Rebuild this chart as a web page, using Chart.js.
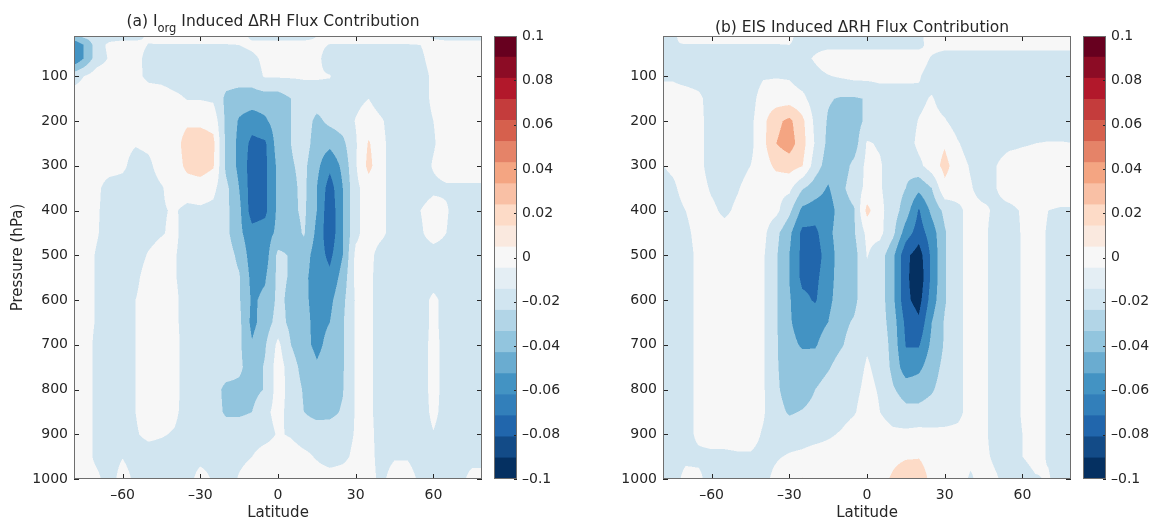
<!DOCTYPE html>
<html>
<head>
<meta charset="utf-8">
<script src="https://cdn.jsdelivr.net/npm/chart.js@4.4.1/dist/chart.umd.min.js"></script>
<style>
  body { margin: 0; background: #ffffff; }
  #wrap { position: relative; width: 1151px; height: 522px; overflow: hidden; }
  canvas { position: absolute; top: 0; }
</style>
</head>
<body>
<div id="wrap">
  <canvas id="panelA" width="490" height="522" style="left:0px"></canvas>
  <canvas id="barA" width="82" height="522" style="left:480px"></canvas>
  <canvas id="panelB" width="490" height="522" style="left:589px"></canvas>
  <canvas id="barB" width="82" height="522" style="left:1069px"></canvas>
</div>
<script>
const latitudes = [-80, -75, -70, -65, -60, -55, -50, -45, -40, -35, -30, -25, -20, -15, -10, -5, 0, 5, 10, 15, 20, 25, 30, 35, 40, 45, 50, 55, 60, 65, 70, 75, 80];
const pressureLevels = [10, 30, 60, 100, 150, 200, 250, 300, 350, 400, 450, 500, 550, 600, 650, 700, 750, 800, 850, 900, 950, 1000];
const latTicks = [-60, -30, 0, 30, 60];
const pressureTicks = [100, 200, 300, 400, 500, 600, 700, 800, 900, 1000];
const colorbarTicks = [-0.1, -0.08, -0.06, -0.04, -0.02, 0, 0.02, 0.04, 0.06, 0.08, 0.1];

// filled contour bands of the panels
const contourLevels = [-0.09, -0.07, -0.05, -0.03, -0.01, 0.01, 0.03, 0.05, 0.07, 0.09];
const contourColors = ['#053061', '#2166ac', '#4393c3', '#92c5de', '#d1e5f0', '#f7f7f7', '#fddbc7', '#f4a582', '#d6604d', '#b2182b', '#67001f'];
// colorbar, bottom (-0.1) to top (0.1)
const colorbarColors = ['#053061', '#134b87', '#2166ac', '#327fba', '#4393c3', '#6aacd0', '#92c5de', '#b2d5e7', '#d1e5f0', '#e4eef4', '#f7f7f7',
  '#fae9df', '#fddbc7', '#f9c0a5', '#f4a582', '#e58368', '#d6604d', '#c43c3c', '#b2182b', '#8c0c25', '#67001f'];

// delta RH flux contribution, in units of 0.01. one row per pressure level, one column per latitude
const iorgFlux = [
  [-4, -2.5, -2, -2, -2, -2, -0.5, 0, 0, 0, 0, 0, 0, 0, -1.5, -2, -2, -2, -2, -1, 0, 0, 0, 0, 0, 0, 0, 0, -1.5, -2, -2, -2, -2],
  [-7, -5, -2, -0.5, 0, 0, -1.1, -1.1, -1.1, -1.1, -1.1, -1.1, -1.1, -1, -0.5, 0, 0, 0, 0, -0.5, -1.1, -1.1, -1.1, -1.1, -1.1, -1.1, -1.1, -1, 0, 0, 0, 0, 0],
  [-7.5, -5, -2, -0.8, 0, 0, -2, -2, -2, -2, -2, -2, -2, -2, -1.5, -0.5, 0, 0, 0, -0.5, -2, -2, -2, -2, -2, -2, -2, -1.5, 0, 0, 0, 0, 0],
  [-2, -1, 0, 0, 0, -0.5, -1.4, -1.6, -2, -2, -2, -2, -2, -2, -2, -0.8, -0.8, -0.8, -0.8, -0.8, -0.9, -2, -2, -2, -2, -2, -2, -2, -0.5, 0, 0, 0, 0],
  [0, 0, 0, 0, 0, 0, 0, 0, -0.5, -1.1, -1.1, -1.3, -3.5, -4, -4, -4, -4, -3, -2, -2, -2, -2, -1.5, -1, -2, -2, -2, -2, -0.5, 0, 0, 0, 0],
  [0, 0, 0, 0, 0, 0, 0, 0, 0, 0.6, 0.6, 0.3, -3.5, -5.2, -6, -5.3, -4, -3, -2, -3.5, -2.5, -2, -0.9, 0, -0.8, -2, -2, -2, -1, 0, 0, 0, 0],
  [0, 0, 0, 0, -0.3, -0.8, -0.5, 0, 0, 2, 2, 1.5, -3.5, -5.5, -7.6, -7.3, -4, -3, -2, -4, -4.5, -3.5, -1.2, 1.2, -0.5, -2, -2, -2, -1.2, 0, 0, 0, 0],
  [0, 0, 0, 0, -0.5, -2, -1.5, 0, 0, 1.5, 2, 1.2, -3.5, -5.5, -8, -7.5, -4.5, -3.2, -2.5, -4.5, -6.5, -4.5, -1.2, 1.6, -0.5, -2, -2, -2, -0.8, 0, 0, 0, 0],
  [0, 0, -0.5, -2, -2, -2, -2, -1.2, 0, 0, 0, -0.5, -2.5, -5, -8, -7.5, -4.5, -3.5, -2.5, -5, -8, -5, -1.5, 0, -0.5, -2, -2, -2, -1.5, -1.3, -1.3, -1.3, -1.3],
  [0, 0, -0.7, -2, -2, -2, -2, -1.2, -0.8, -1.5, -1.3, -1.5, -2.5, -4.5, -8, -7.5, -4.5, -3.5, -2.6, -5, -8.5, -5, -1.5, 0, -0.5, -2, -2, -1, 0, -0.8, -2, -2, -2],
  [0, 0, -0.8, -2, -2, -2, -1.8, -1.2, -0.5, -2, -2, -2, -2.5, -4.5, -6.3, -6, -4.5, -4, -2.8, -5.5, -8.5, -5, -1.5, 0, -0.5, -2, -2, -1.3, 0, -1, -2, -2, -2],
  [0, 0, -1.2, -2, -2, -2, -0.8, 0, -0.8, -2, -2, -2, -2, -3.5, -6, -6, -2.5, -3.2, -4, -6, -7.5, -5, -0.5, -0.3, -2, -2, -2, -2, -2, -2, -2, -2, -2],
  [0, 0, -1.2, -2, -2, -1.5, 0, 0, -0.8, -2, -2, -2, -2, -2.8, -5.6, -5.2, -2.5, -3.2, -4.5, -6, -6.5, -4.2, -0.5, -0.5, -2, -2, -2, -2, -2, -2, -2, -2, -2],
  [0, 0, -1.2, -2, -2, -1, 0, 0, -0.5, -2, -2, -2, -2, -2.8, -5.3, -4.6, -2.5, -3.5, -4.7, -5.5, -5.5, -3.5, -0.8, -0.5, -2, -2, -2, -2, -0.5, -1.8, -2, -2, -2],
  [0, 0, -1.2, -2, -2, -1, 0, 0, -0.5, -2, -2, -2, -2, -2.5, -5.6, -4, -2.2, -3.5, -4.5, -5.5, -5, -3.2, -0.8, -0.5, -2, -2, -2, -2, -0.5, -1.8, -2, -2, -2],
  [0, 0, -1.5, -2, -2, -1, 0, 0, -0.3, -2, -2, -2, -2, -2.6, -4.8, -3.2, -0.5, -3, -4.5, -5.4, -4.5, -3.2, -0.8, -0.5, -2, -2, -2, -2, -0.3, -1.8, -2, -2, -2],
  [0, 0, -1.5, -2, -2, -1, 0, 0, -0.3, -2, -2, -2, -2, -2.6, -4, -2.8, 0, -2, -3.8, -4.8, -4.2, -3.2, -0.8, -0.5, -2, -2, -2, -2, -0.3, -1.8, -2, -2, -2],
  [0, 0, -1.5, -2, -2, -1, 0, 0, -0.3, -2, -2, -2.2, -3.5, -3.5, -3.6, -2.9, 0, -1.8, -3.2, -4.2, -4, -3.1, -0.8, -0.5, -2, -2, -2, -2, -0.3, -1.8, -2, -2, -2],
  [0, 0, -1.5, -2, -2, -1, 0, 0, -0.5, -2, -2, -2.2, -3.3, -3.3, -3, -1.5, -0.3, -1.8, -3, -3.6, -3.5, -2.8, -0.8, -0.5, -2, -2, -2, -2, -0.5, -1.8, -2, -2, -2],
  [0, 0, -1.5, -2, -2, -1.2, -0.5, -0.8, -1.2, -2, -2, -2, -2, -2, -2, -1.8, -0.8, -1.2, -2, -2, -2, -2, -0.8, -0.3, -2, -2, -2, -2, -1.1, -2, -2, -2, -2],
  [0, 0, -1.5, -2, -1.1, -2, -2, -2, -2, -2, -1.8, -1.8, -2, -1.5, -1, 0, 0, 0, -0.5, -1.2, -2, -1.5, -0.5, -0.3, -1.8, -1.2, -1.2, -2, -2, -2, -1.5, -1.5, -1.5],
  [0, 0, -0.5, -2, 0, -1.5, -2, -2, -2, -2, 0, -1.3, -2, -0.8, 0, 0, 0, 0, 0, 0, 0, 0, 0, -0.3, -1.5, 0, 0, -1.5, -2, -2, -1.5, -0.5, -0.5]
];

const eisFlux = [
  [-2, -1.5, 0, 0, 0, 0, 0, 0, 0, 0, -0.5, -2, -2, -2, -2, -2, -2, -2, -2, -2, -1.5, 0, 0, 0, 0, 0, 0, 0, 0, 0, 0, 0, 0],
  [-2.2, -1.1, -1.1, -1.1, -1.1, -1.1, -1.1, -1.1, -1.1, -1.1, -1, -1.5, -1.5, -1.5, -1.5, -1.5, -1.5, -1.5, -1.5, -1.5, -1.5, -0.3, -0.3, -0.3, -0.3, -0.3, -0.3, -0.3, -0.3, -0.3, -0.3, -0.3, -0.3],
  [-3.3, -2, -2, -2, -2, -2, -2, -2, -2, -2, -2, -1.5, -0.8, 0, 0, 0, 0, 0, 0, 0, 0, -1.2, -2, -2, -2, -2, -2, -2, -2, -2, -2, -2, -2],
  [-1.3, -1.3, -1.8, -2, -2, -2, -2, -2, -1.2, -1.1, -1.2, -2, -1.5, -1.1, -0.8, -0.5, -0.5, -0.5, -0.5, -0.5, -0.8, -2, -2, -2, -2, -2, -2, -2, -2, -2, -2, -2, -2],
  [0, 0, 0, -0.5, -2, -2, -2, -1.8, 0, 0, 0, -0.5, -2, -2.8, -3.2, -3.2, -2.9, -2, -2, -2, -1.5, -0.8, -2, -2, -2, -2, -2, -2, -2, -2, -2, -2, -2],
  [0, 0, 0, -0.3, -2, -2, -2, -1.5, 0.5, 2.5, 3.5, 1.5, -1.5, -3.2, -4, -4, -2.5, -2, -2, -2, -0.9, -0.3, -0.8, -2, -2, -2, -2, -2, -2, -2, -2, -2, -2],
  [0, 0, 0, -0.3, -2, -2, -2, -1.5, 0.5, 3, 4, 1.8, -1.2, -3.5, -4, -4, -0.8, -1.2, -2, -2, -0.5, 0, 0.8, -0.8, -2, -2, -1.8, -1.5, -1.2, -1, -0.9, -0.9, -1],
  [-1.2, -0.5, 0, -0.3, -2, -2, -2, -1, 0, 1.5, 1.8, 1.1, -2, -4, -4, -2.5, -0.5, -0.8, -2, -2.5, -1.5, 0, 1.6, 0, -1.2, -2, -1, 0, 0, 0, 0, 0, 0],
  [-2, -1.5, 0, 0, -1.3, -2, -1.2, 0, 0, -0.5, -0.5, -2.8, -4, -5.2, -3.5, -2, -0.5, -0.8, -2, -3, -4.5, -3, 0.5, 0, -0.8, -2, -1, 0, 0, 0, 0, 0, 0],
  [-2, -2, -1, 0, -0.5, -1.5, -0.5, 0, 0, -0.5, -2.5, -5.5, -6, -6, -4, -3.2, 1.6, -0.5, -2, -4, -7.2, -4.5, -2.5, -1.5, -0.3, -0.5, -1.5, -1.5, -0.8, -0.3, -1, -1.2, -1.2],
  [-2, -2, -1.5, -0.3, 0, 0, 0, 0, -0.5, -2.5, -4.5, -7.5, -7.5, -5.5, -4, -3.2, -0.5, -0.5, -2.5, -6, -8, -6, -3.2, -1.5, -0.3, -0.5, -2, -2, -0.8, -0.3, -1.2, -2, -2],
  [-2, -2, -1.8, -0.5, 0, 0, 0, 0, -0.8, -2.8, -5, -7.5, -8, -6, -4, -3.8, -0.9, -2, -4.5, -8.5, -10, -6.5, -3.2, -1.5, -0.3, -0.5, -2, -2, -0.8, -0.3, -1.2, -2, -2],
  [-2, -2, -1.8, -0.5, 0, 0, 0, 0, -0.8, -2.8, -5, -7.5, -7.5, -5.8, -4, -3.5, -1.5, -2, -4.5, -8.5, -10.5, -6.5, -3.2, -1.5, -0.3, -0.5, -2, -2, -0.8, -0.3, -1.2, -2, -2],
  [-2, -2, -1.8, -0.5, 0, 0, 0, 0, -0.8, -2.8, -4.8, -6.5, -7.2, -5.5, -4, -3.5, -1.5, -2, -4.5, -8.5, -9.8, -6, -3.2, -1.5, -0.3, -0.5, -2, -2, -0.8, -0.3, -1.2, -2, -2],
  [-2, -2, -1.8, -0.5, 0, 0, 0, 0, -0.8, -2.8, -4.8, -5.8, -5.8, -5, -3.5, -2.8, -1.5, -2, -4, -7.5, -8.6, -5, -2.8, -1.5, -0.3, -0.5, -2, -2, -0.8, -0.3, -1.2, -2, -2],
  [-2, -2, -1.8, -0.5, 0, 0, 0, 0, -0.8, -2.8, -4.5, -5.2, -5.2, -4, -3.2, -2.2, -1.2, -1.5, -3.8, -7.1, -7.2, -4.5, -2.8, -1.5, -0.3, -0.5, -2, -2, -0.8, -0.3, -1.2, -2, -2],
  [-2, -2, -1.8, -0.5, 0, 0, 0, 0, -0.8, -2.8, -4, -4.2, -4, -3.2, -2.2, -1.8, -0.8, -1.5, -3.5, -6.2, -5.5, -3.8, -2.5, -1.5, -0.3, -0.5, -2, -2, -0.8, -0.3, -1.2, -2, -2],
  [-2, -2, -1.8, -0.5, 0, 0, 0, 0, -0.8, -2.7, -3.8, -3.8, -3, -2.2, -2, -1.5, -0.5, -1.2, -2.8, -3.8, -3.8, -3.2, -2.2, -1.5, -0.3, -0.5, -2, -2, -0.8, -0.3, -1.2, -2, -2],
  [-2, -2, -1.8, -0.5, 0, 0, 0, 0, -0.8, -2.4, -3.2, -2.9, -2.5, -2.2, -1.8, -1.2, 0, -1, -2, -2.5, -2.5, -2.2, -2, -1.5, -0.3, -0.5, -2, -2, -0.8, -0.3, -1.2, -2, -2],
  [-2, -2, -1.8, -0.5, 0, 0, 0, -0.3, -1.2, -2, -2, -2, -1.8, -1.3, -0.8, 0, 0, 0, -0.5, -0.5, -0.3, -0.5, -0.5, -0.5, -0.3, -0.5, -2, -2, -1, -0.3, -1.2, -2, -2],
  [-2, -2, -1.5, -1.5, -1.5, -1.5, -1.3, -1.2, -1.5, -1.2, -0.8, -0.5, 0, 0, 0, 0, 0, 0, 0.5, 0.8, 0.9, 0.3, 0, 0, -0.5, -0.5, -1.5, -2, -1, -0.3, -1.2, -2, -2],
  [-2, -2, -0.3, -0.5, -2, -2, -2, -2, -1.5, -0.5, 0.8, 1.1, 0, 0, 0, 0, 0, 0.3, 1.3, 2.2, 2, 0.5, 0, 0, -1.3, 0, -0.8, -2, -2, -1.2, -0.8, -2, -2]
];

const textColor = '#262626';
Chart.defaults.font.family = '"DejaVu Sans", sans-serif';
Chart.defaults.color = textColor;

function hexToRgb(hex) {
  return [parseInt(hex.slice(1, 3), 16), parseInt(hex.slice(3, 5), 16), parseInt(hex.slice(5, 7), 16)];
}
const bandRgb = contourColors.map(hexToRgb);

function cellIndex(nodes, v) {
  let k = 0;
  while (k < nodes.length - 2 && v > nodes[k + 1]) k++;
  return k;
}

function sampleField(field, lat, p) {
  const i = cellIndex(latitudes, lat);
  const j = cellIndex(pressureLevels, p);
  const tx = (lat - latitudes[i]) / (latitudes[i + 1] - latitudes[i]);
  const ty = (p - pressureLevels[j]) / (pressureLevels[j + 1] - pressureLevels[j]);
  const top = field[j][i] * (1 - tx) + field[j][i + 1] * tx;
  const bottom = field[j + 1][i] * (1 - tx) + field[j + 1][i + 1] * tx;
  return (top * (1 - ty) + bottom * ty) * 0.01;
}

function bandOf(v) {
  let k = 0;
  while (k < contourLevels.length && v > contourLevels[k]) k++;
  return k;
}

function formatTick(v) {
  const r = Math.round(v * 100) / 100;
  return r < 0 ? '\u2013' + Math.abs(r) : String(r);
}

// paints the filled contours into the chart area, going through the chart's own scales
const fieldPlugin = {
  id: 'fieldFill',
  beforeDraw(chart, args, opts) {
    const {ctx, chartArea, scales} = chart;
    const left = Math.round(chartArea.left), top = Math.round(chartArea.top);
    const w = Math.round(chartArea.right) - left, h = Math.round(chartArea.bottom) - top;
    const off = document.createElement('canvas');
    off.width = w;
    off.height = h;
    const octx = off.getContext('2d');
    const img = octx.createImageData(w, h);
    const subs = [0.25, 0.75];
    const lats = [], pres = [];
    for (let i = 0; i < w; i++) subs.forEach(s => lats.push(scales.x.getValueForPixel(left + i + s)));
    for (let j = 0; j < h; j++) subs.forEach(s => pres.push(scales.y.getValueForPixel(top + j + s)));
    for (let j = 0; j < h; j++) {
      for (let i = 0; i < w; i++) {
        let r = 0, g = 0, b = 0;
        for (let sj = 0; sj < 2; sj++) {
          for (let si = 0; si < 2; si++) {
            const c = bandRgb[bandOf(sampleField(opts.field, lats[i * 2 + si], pres[j * 2 + sj]))];
            r += c[0]; g += c[1]; b += c[2];
          }
        }
        const o = (j * w + i) * 4;
        img.data[o] = r / 4;
        img.data[o + 1] = g / 4;
        img.data[o + 2] = b / 4;
        img.data[o + 3] = 255;
      }
    }
    octx.putImageData(img, 0, 0);
    ctx.drawImage(off, left, top);
  }
};

// box, inward ticks on all four sides and the panel title
const framePlugin = {
  id: 'panelFrame',
  afterDraw(chart, args, opts) {
    const {ctx, chartArea: a, scales: {x, y}} = chart;
    ctx.save();
    ctx.strokeStyle = textColor;
    ctx.lineWidth = 1;
    ctx.beginPath();
    latTicks.forEach(v => {
      const px = Math.round(x.getPixelForValue(v)) + 0.5;
      ctx.moveTo(px, a.bottom); ctx.lineTo(px, a.bottom - 5);
      ctx.moveTo(px, a.top); ctx.lineTo(px, a.top + 5);
    });
    pressureTicks.forEach(v => {
      const py = Math.round(y.getPixelForValue(v)) + 0.5;
      ctx.moveTo(a.left, py); ctx.lineTo(a.left + 5, py);
      ctx.moveTo(a.right, py); ctx.lineTo(a.right - 5, py);
    });
    ctx.stroke();
    ctx.strokeStyle = '#6e6e6e';
    ctx.strokeRect(Math.round(a.left) + 0.5, Math.round(a.top) + 0.5, Math.round(a.right - a.left) - 1, Math.round(a.bottom - a.top) - 1);

    // title with an optional subscript part
    const mainFont = '15.5px "DejaVu Sans"', subFont = '11.5px "DejaVu Sans"';
    let total = 0;
    opts.title.forEach(part => {
      ctx.font = part.sub ? subFont : mainFont;
      total += ctx.measureText(part.text).width;
    });
    let tx = (a.left + a.right) / 2 - 5 - total / 2;
    ctx.fillStyle = textColor;
    ctx.textBaseline = 'alphabetic';
    ctx.textAlign = 'left';
    opts.title.forEach(part => {
      ctx.font = part.sub ? subFont : mainFont;
      ctx.fillText(part.text, tx, part.sub ? opts.baseline + 6 : opts.baseline);
      tx += ctx.measureText(part.text).width;
    });
    ctx.restore();
  }
};

function makePanel(id, field, title, baseline, showYTitle) {
  return new Chart(document.getElementById(id), {
    type: 'scatter',
    data: {datasets: []},
    options: {
      responsive: false,
      animation: false,
      events: [],
      layout: {padding: {left: 0, top: 36, right: 8, bottom: 0}},
      plugins: {
        legend: {display: false},
        tooltip: {enabled: false},
        fieldFill: {field: field},
        panelFrame: {title: title, baseline: baseline}
      },
      scales: {
        x: {
          type: 'linear', min: -78.75, max: 78.75,
          grid: {display: false, drawTicks: false},
          border: {display: false},
          afterBuildTicks: s => { s.ticks = latTicks.map(v => ({value: v})); },
          afterFit: s => { s.height = 43; },
          ticks: {padding: 8, font: {size: 14}, color: textColor, callback: v => formatTick(v)},
          title: {display: true, text: 'Latitude', font: {size: 15}, color: textColor, padding: {top: 0, bottom: 0}}
        },
        y: {
          type: 'linear', min: 10, max: 1000, reverse: true,
          grid: {display: false, drawTicks: false},
          border: {display: false},
          afterBuildTicks: s => { s.ticks = pressureTicks.map(v => ({value: v})); },
          afterFit: s => { s.width = 74; },
          ticks: {padding: 6, font: {size: 14}, color: textColor, callback: v => String(v)},
          title: {display: showYTitle, text: 'Pressure (hPa)', font: {size: 15}, color: textColor, padding: {top: 9, bottom: 0}}
        }
      }
    },
    plugins: [fieldPlugin, framePlugin]
  });
}

const colorbarFrame = {
  id: 'colorbarFrame',
  afterDraw(chart) {
    const {ctx, chartArea: a, scales: {y}} = chart;
    ctx.save();
    ctx.strokeStyle = textColor;
    ctx.lineWidth = 1;
    ctx.beginPath();
    colorbarTicks.forEach(v => {
      const py = Math.round(y.getPixelForValue(v)) + 0.5;
      ctx.moveTo(a.right, py); ctx.lineTo(a.right - 3, py);
    });
    ctx.stroke();
    ctx.strokeStyle = '#6e6e6e';
    ctx.strokeRect(Math.round(a.left) + 0.5, Math.round(a.top) + 0.5, Math.round(a.right - a.left) - 1, Math.round(a.bottom - a.top) - 1);
    ctx.restore();
  }
};

function makeColorbar(id) {
  const lo = colorbarTicks[0], hi = colorbarTicks[colorbarTicks.length - 1];
  const step = (hi - lo) / colorbarColors.length;
  const datasets = colorbarColors.map((c, i) => ({
    data: [[lo + i * step, lo + (i + 1) * step]],
    backgroundColor: c,
    borderWidth: 0,
    barPercentage: 1,
    categoryPercentage: 1,
    grouped: false
  }));
  return new Chart(document.getElementById(id), {
    type: 'bar',
    data: {labels: [''], datasets: datasets},
    options: {
      responsive: false,
      animation: false,
      events: [],
      layout: {padding: {left: 14, top: 36, right: 0, bottom: 43}},
      plugins: {legend: {display: false}, tooltip: {enabled: false}},
      scales: {
        x: {display: false},
        y: {
          position: 'right', min: lo, max: hi,
          grid: {display: false, drawTicks: false},
          border: {display: false},
          afterBuildTicks: s => { s.ticks = colorbarTicks.map(v => ({value: v})); },
          afterFit: s => { s.width = 45; },
          ticks: {padding: 5, font: {size: 14}, color: textColor, callback: v => formatTick(v)}
        }
      }
    },
    plugins: [colorbarFrame]
  });
}

makePanel('panelA', iorgFlux, [
  {text: '(a) I', sub: false},
  {text: 'org', sub: true},
  {text: ' Induced \u0394RH Flux Contribution', sub: false}
], 26, true);
makePanel('panelB', eisFlux, [
  {text: '(b) EIS Induced \u0394RH Flux Contribution', sub: false}
], 32, false);
makeColorbar('barA');
makeColorbar('barB');
</script>
</body>
</html>
